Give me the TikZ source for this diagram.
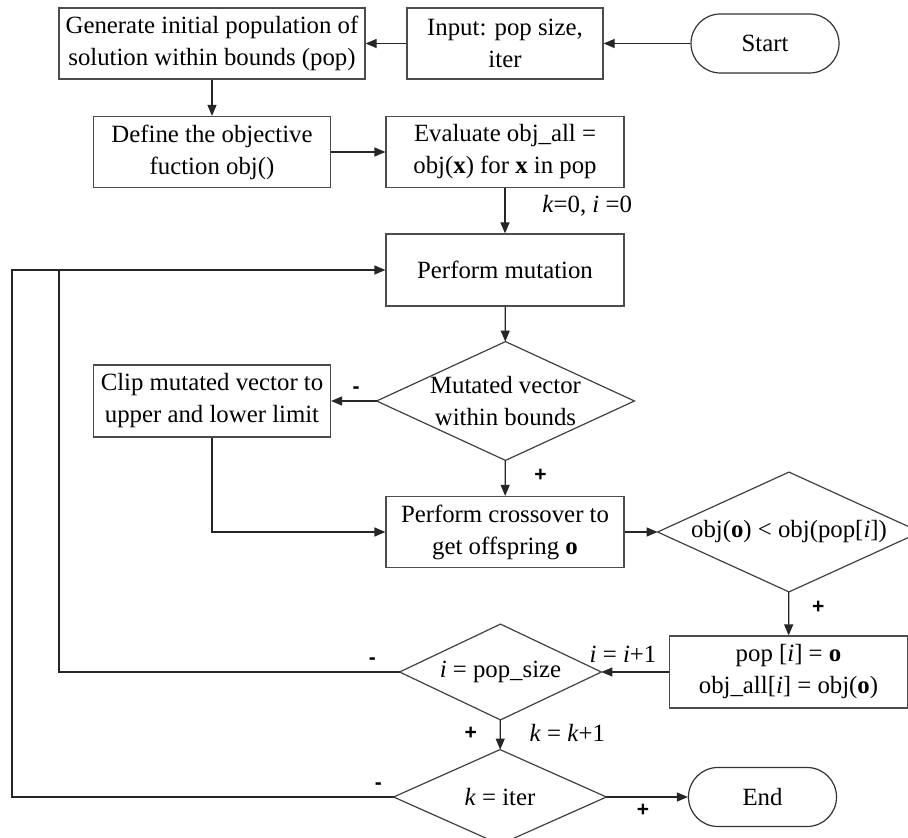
\documentclass[tikz,border=0pt]{standalone}
\usepackage{fontspec}
\setmainfont{Liberation Serif}
\newfontfamily\signfont{Liberation Sans}
\usetikzlibrary{positioning,arrows.meta,calc}

\begin{document}
\begin{tikzpicture}[x=0.5pt, y=-0.5pt, font=\fontsize{12.4}{16}\selectfont,
  box/.style={draw=black!70, line width=0.6pt, align=center, inner sep=2pt, minimum width=119pt, minimum height=35.5pt},
  term/.style={draw=black!80, line width=0.6pt, rounded corners=14.7pt, align=center, minimum width=74pt, minimum height=29.5pt},
  dec/.style={align=center, inner sep=0pt},
  sign/.style={font=\signfont\bfseries\fontsize{10.5}{10.5}\selectfont},
  arr/.style={-{Triangle[length=5.5pt,width=4.5pt]}, line width=0.6pt, draw=black!85}]
\useasboundingbox (0,0) rectangle (908,838);
% top rows
\node[box, minimum width=153pt] (gen) at (212,43.5) {Generate initial population of\\solution within bounds (pop)};
\node[box, minimum width=98pt] (inp) at (505,43.5) {Input: pop size,\\iter};
\node[term] (start) at (765,43.5) {Start};
\node[box, minimum width=118.5pt] (def) at (212,152) {Define the objective\\fuction obj()};
\node[box] (eval) at (505,152) {Evaluate obj\_all =\\obj(\textbf{x}) for \textbf{x} in pop};
% mutation and crossover
\node[box, minimum height=36pt] (mut) at (505,270) {Perform mutation};
\node[dec, minimum width=128.5pt, minimum height=59pt] (chk) at (505.5,401) {Mutated vector\\within bounds};
\node[box, minimum width=118.5pt, minimum height=36pt] (clip) at (212,401) {Clip mutated vector to\\upper and lower limit};
\node[box] (cross) at (505,532) {Perform crossover to\\get offspring \textbf{o}};
\node[dec, minimum width=131pt, minimum height=59.5pt] (better) at (789,532) {obj(\textbf{o}) < obj(pop[\textit{i}])};
\node[box, minimum height=36pt] (upd) at (788.5,672) {pop [\textit{i}] = \textbf{o}\\obj\_all[\textit{i}] = obj(\textbf{o})};
% loop checks
\node[dec, minimum width=100.5pt, minimum height=47.5pt] (popchk) at (500.5,672) {\textit{i} = pop\_size};
\node[dec, minimum width=106pt, minimum height=47pt] (iterchk) at (500,797) {\textit{k} = iter};
\node[term] (end) at (762.5,797) {End};
\foreach \d in {chk,better,popchk,iterchk}
  \draw[draw=black!75, line width=0.6pt] (\d.north) -- (\d.east) -- (\d.south) -- (\d.west) -- cycle;
\coordinate (inA) at (59,270);
\coordinate (outA) at (12,270);
% connectors
\draw[arr] (start) -- (inp);
\draw[arr] (inp) -- (gen);
\draw[arr] (gen) -- (def);
\draw[arr] (def) -- (eval);
\draw[arr] (eval) -- node[pos=0.4, right=15pt]{\textit{k}=0, \textit{i} =0} (mut);
\draw[arr] (mut) -- (chk);
\draw[arr] (chk) -- node[sign, above, pos=0.45]{-} (clip);
\draw[arr] (chk) -- node[sign, right=11pt, pos=0.43]{+} (cross);
\draw[arr] (clip) |- (cross);
\draw[arr] (cross) -- (better);
\draw[arr] (better) -- node[sign, right=8pt, pos=0.36]{+} (upd);
\draw[arr] (upd) -- node[above=1pt, pos=0.68]{\textit{i} = \textit{i}+1} (popchk);
\draw[arr] (popchk) -- node[sign, left=8pt, pos=0.45]{+} node[right=11pt, pos=0.45]{\textit{k} = \textit{k}+1} (iterchk);
\draw[arr] (iterchk) -- node[sign, below, pos=0.45]{+} (end);
\draw[arr] (popchk.west) -- node[sign, above, pos=0.08]{-} (popchk.west -| inA) -- (inA) -- (mut.west);
\draw[line width=0.6pt, draw=black!85] (iterchk.west) -- node[sign, above, pos=0.04]{-} (iterchk.west -| outA) -- (outA) -- (inA);
\end{tikzpicture}
\end{document}
